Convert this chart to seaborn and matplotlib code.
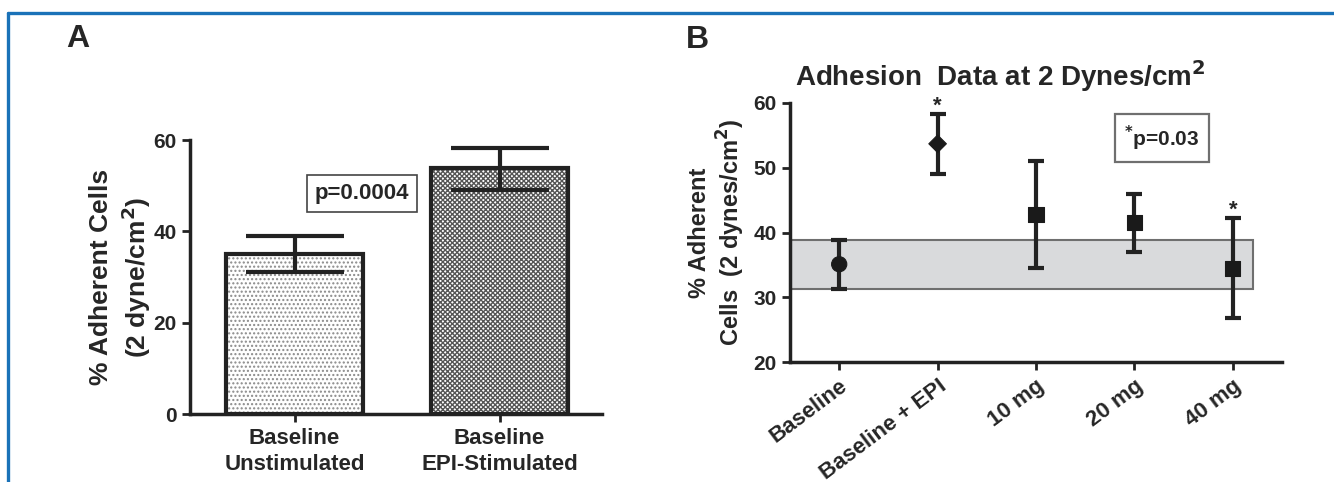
import numpy as np
import pandas as pd
import matplotlib
matplotlib.use('Agg')
import matplotlib.pyplot as plt
import matplotlib.transforms as mtransforms
import seaborn as sns
from matplotlib.patches import Rectangle
from matplotlib.lines import Line2D

sns.set_style('ticks')
plt.rcParams['font.family'] = ['Liberation Sans', 'DejaVu Sans']
plt.rcParams['font.weight'] = 'bold'
plt.rcParams['hatch.linewidth'] = 1.0

# Panel A data
groups_a = ['Baseline\nUnstimulated', 'Baseline\nEPI-Stimulated']
means_a = [35.1, 53.8]
low_a = [31.2, 49.1]
high_a = [38.9, 58.3]

# Panel B data
groups_b = ['Baseline', 'Baseline + EPI', '10 mg', '20 mg', '40 mg']
means_b = [35.1, 53.7, 42.8, 41.5, 34.5]
low_b = [31.3, 49.0, 34.5, 37.0, 26.8]
high_b = [38.9, 58.3, 51.0, 46.0, 42.2]
markers_b = ['o', 'D', 's', 's', 's']
marker_sizes_b = [120, 80, 120, 120, 120]
starred_b = ['Baseline + EPI', '40 mg']
band_b = (31.2, 38.9)

fig = plt.figure(figsize=(13.34, 4.82), dpi=100)
W, H = 1334, 482

# blue frame
fig.add_artist(Line2D([8 / W, 1], [1 - 13 / H, 1 - 13 / H], color='#1a72b8', lw=2.4, transform=fig.transFigure))
fig.add_artist(Line2D([8 / W, 8 / W], [0, 1 - 13 / H], color='#1a72b8', lw=2.4, transform=fig.transFigure))

# ---------- Panel A ----------
axA = fig.add_axes([190 / W, 1 - 414 / H, (602 - 190) / W, (414 - 140) / H])
df_a = pd.DataFrame({'group': groups_a, 'mean': means_a})
sns.barplot(data=df_a, x='group', y='mean', ax=axA, errorbar=None, width=0.67,
            color='white', edgecolor='#777777', linewidth=0)
for bar, h in zip(axA.patches, ['....', 'xxxxxxx']):
    bar.set_hatch(h)
    bar.set_edgecolor('#555555' if h.startswith('x') else '#8a8a8a')
sns.barplot(data=df_a, x='group', y='mean', ax=axA, errorbar=None, width=0.67,
            fill=False, edgecolor='#222222', linewidth=3)
mid_a = np.array(means_a)
axA.errorbar(range(len(groups_a)), mid_a,
             yerr=[mid_a - np.array(low_a), np.array(high_a) - mid_a],
             fmt='none', ecolor='#222222', elinewidth=3, capsize=35, capthick=3)
axA.set_xlim(-0.51, 1.5)
axA.set_ylim(0, 60)
axA.set_yticks([0, 20, 40, 60])
axA.set_xlabel('')
axA.set_ylabel('% Adherent Cells\n(2 dyne/cm$^\\mathbf{2}$)', fontsize=19, fontweight='bold',
               linespacing=1.25)
axA.yaxis.set_label_coords(-0.09, 0.5)
axA.tick_params(axis='both', width=2, length=6, color='#222222')
axA.tick_params(axis='y', labelsize=15)
axA.tick_params(axis='x', labelsize=16, pad=4)
for lab in axA.get_xticklabels():
    lab.set_linespacing(1.35)
for s in ['left', 'bottom']:
    axA.spines[s].set_linewidth(2.5)
    axA.spines[s].set_color('#222222')
sns.despine(ax=axA)
axA.text(0.33, 48.3, 'p=0.0004', fontsize=16, fontweight='bold', ha='center', va='center',
         bbox=dict(boxstyle='square,pad=0.35', fc='white', ec='#444444', lw=1.2))
fig.text(66 / W, 1 - 39 / H, 'A', fontsize=23, fontweight='bold', va='center', ha='left')

# ---------- Panel B ----------
axB = fig.add_axes([790 / W, 1 - 362 / H, (1282 - 790) / W, (362 - 103) / H])
df_b = pd.DataFrame({'group': groups_b, 'mean': means_b, 'low': low_b, 'high': high_b})
axB.add_patch(Rectangle((-0.5, band_b[0]), 4.71, band_b[1] - band_b[0],
                        fc='#d9dadc', ec='#6f6f6f', lw=1.5, zorder=1))
xs = np.arange(len(groups_b))
axB.errorbar(xs, df_b['mean'], yerr=[df_b['mean'] - df_b['low'], df_b['high'] - df_b['mean']],
             fmt='none', ecolor='#222222', elinewidth=3, capsize=6, capthick=3, zorder=3)
sns.scatterplot(data=df_b, x='group', y='mean', style='group', markers=dict(zip(groups_b, markers_b)),
                size='group', sizes=dict(zip(groups_b, marker_sizes_b)),
                color='#1a1a1a', edgecolor='#1a1a1a', ax=axB, legend=False, zorder=4)
for g in starred_b:
    i = groups_b.index(g)
    axB.text(i, high_b[i] + 0.4, '*', fontsize=16, fontweight='bold', ha='center', va='baseline')
axB.set_xlim(-0.5, 4.5)
axB.set_ylim(20, 60)
axB.set_yticks([20, 30, 40, 50, 60])
axB.set_xticks(xs)
axB.set_xticklabels(groups_b, rotation=37, ha='right', va='top', rotation_mode='anchor', fontsize=16)
shift = mtransforms.ScaledTranslation(9 / 100, -6 / 100, fig.dpi_scale_trans)
for lab in axB.get_xticklabels():
    lab.set_transform(lab.get_transform() + shift)
axB.set_xlabel('')
axB.set_ylabel('% Adherent\nCells  (2 dynes/cm$^\\mathbf{2}$)', fontsize=17, fontweight='bold',
               linespacing=1.15)
axB.yaxis.set_label_coords(-0.088, 0.5)
axB.tick_params(axis='both', width=2, length=6, color='#222222')
axB.tick_params(axis='y', labelsize=15)
for s in ['left', 'bottom']:
    axB.spines[s].set_linewidth(2.5)
    axB.spines[s].set_color('#222222')
sns.despine(ax=axB)
axB.text(3.28, 54.6, '$^{\\mathbf{*}}$p=0.03', fontsize=15, fontweight='bold', ha='center', va='center',
         bbox=dict(boxstyle='square,pad=0.45', fc='white', ec='#6f6f6f', lw=1.6))
fig.text(1000 / W, 1 - 76 / H, 'Adhesion  Data at 2 Dynes/cm$^\\mathbf{2}$', fontsize=20,
         fontweight='bold', ha='center', va='center')
fig.text(686 / W, 1 - 40 / H, 'B', fontsize=23, fontweight='bold', va='center', ha='left')

fig.savefig('out.png', dpi=100)
